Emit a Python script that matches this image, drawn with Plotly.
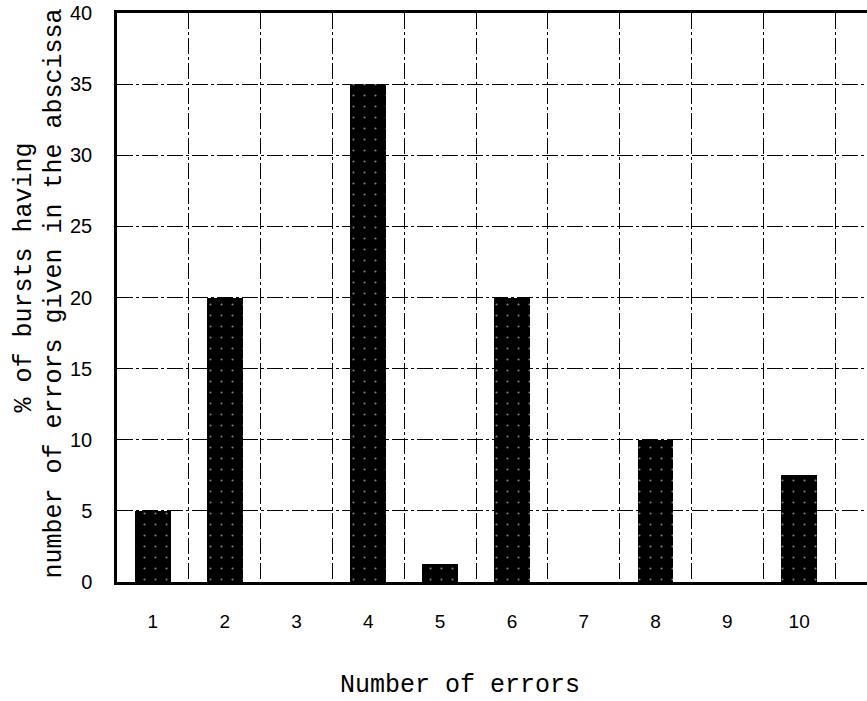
import plotly.graph_objects as go

categories = [1, 2, 3, 4, 5, 6, 7, 8, 9, 10]
values = [5, 20, 0, 35, 1.25, 20, 0, 10, 0, 7.5]
y_ticks = [0, 5, 10, 15, 20, 25, 30, 35, 40]
x_grid = [0.5, 1.5, 2.5, 3.5, 4.5, 5.5, 6.5, 7.5, 8.5, 9.5, 10.5]

fig = go.Figure()
fig.add_trace(go.Bar(
    x=categories, y=values, width=0.5,
    marker=dict(color="black", line=dict(width=0),
                pattern=dict(shape=".", bgcolor="black", fgcolor="white",
                             size=11, solidity=0.03)),
    showlegend=False,
))

grid_dash = "16px,3px,3px,3px"
fig.update_layout(
    width=867, height=701,
    margin=dict(l=117, r=0, t=13, b=119),
    plot_bgcolor="white", paper_bgcolor="white",
    bargap=0,
    xaxis=dict(
        range=[0.5, 10.945],
        tickvals=categories,
        ticktext=[str(c) for c in categories],
        showgrid=False,
        zeroline=False,
        showline=True, linecolor="black", linewidth=2.5, mirror=True,
        ticks="", ticklabelstandoff=20,
        tickfont=dict(family="Liberation Sans", size=19, color="black"),
        minor=dict(tickvals=x_grid, showgrid=True, gridcolor="black",
                   gridwidth=1.3, griddash=grid_dash, ticks=""),
    ),
    yaxis=dict(
        range=[0, 40],
        tickvals=y_ticks,
        showgrid=True, gridcolor="black", gridwidth=1.3, griddash=grid_dash,
        zeroline=False,
        showline=True, linecolor="black", linewidth=2.5,
        ticks="", ticklabelstandoff=18, ticklabeloverflow="allow",
        tickfont=dict(family="Liberation Sans", size=20, color="black"),
    ),
    annotations=[
        dict(text="% of bursts having", xref="paper", yref="paper",
             x=0, y=0.5, xshift=-93, yshift=20, textangle=-90, showarrow=False,
             xanchor="center", yanchor="middle",
             font=dict(family="Liberation Mono", size=25, color="black")),
        dict(text="number of errors given in the abscissa", xref="paper", yref="paper",
             x=0, y=0.5, xshift=-63, yshift=4, textangle=-90, showarrow=False,
             xanchor="center", yanchor="middle",
             font=dict(family="Liberation Mono", size=25, color="black")),
        dict(text="Number of errors", xref="paper", yref="paper",
             x=0, y=0, xshift=343, yshift=-103, showarrow=False,
             xanchor="center", yanchor="middle",
             font=dict(family="Liberation Mono", size=25, color="black")),
    ],
)

fig.write_html(
    "out.html",
    config={"displayModeBar": False},
    post_script="document.body.style.margin='0';document.documentElement.style.overflow='hidden';document.body.style.overflow='hidden';",
)
